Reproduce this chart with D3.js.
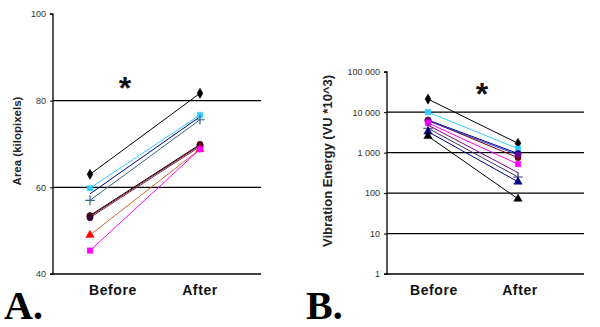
<!DOCTYPE html>
<html>
<head>
<meta charset="utf-8">
<script src="https://cdn.jsdelivr.net/npm/d3@7"></script>
<style>
  body { margin: 0; background: #fff; }
  svg { display: block; font-family: "Liberation Sans", Arial, sans-serif; }
</style>
</head>
<body>
<svg id="chart" width="600" height="327"></svg>
<script>
// categorías
const categorias = ["Before", "After"];

// Panel A: área (kilopixels)
const antesA   = [63, 59.8, 58.5, 57, 53.5, 53.3, 53.0, 49, 45.4];
const despuesA = [81.7, 76.7, 76.3, 75.6, 69.9, 69.7, 69.4, 68.8, 68.8];
const ticksA = [40, 60, 80, 100];
const gridA  = [60, 80];

// Panel B: energía de vibración (escala log)
const antesB   = [21000, 10000, 6400, 6300, 6100, 5400, 4800, 4000, 3300, 2550];
const despuesB = [1700, 1250, 950, 750, 880, 520, 320, 250, 190, 72];
const ticksB = [1, 10, 100, 1000, 10000, 100000];
const gridB  = [10, 100, 1000, 10000];

// estilos de serie (color de línea, color de marcador, símbolo)
const estilosA = [
    { linea: "#000000", marca: "#000000", sim: d3.symbolDiamond },
    { linea: "#33ccff", marca: "#33ccff", sim: d3.symbolSquare },
    { linea: "#000080", marca: "#000080", sim: null },
    { linea: "#336680", marca: "#336680", sim: d3.symbolCross },
    { linea: "#000000", marca: "#000000", sim: d3.symbolCircle },
    { linea: "#800000", marca: "#800000", sim: d3.symbolCircle },
    { linea: "#663366", marca: "#330033", sim: d3.symbolCircle },
    { linea: "#cc6633", marca: "#ff0000", sim: d3.symbolTriangle },
    { linea: "#ff00ff", marca: "#ff00ff", sim: d3.symbolSquare }
];
const estilosB = [
    { linea: "#000000", marca: "#000000", sim: d3.symbolDiamond },
    { linea: "#33ccff", marca: "#33ccff", sim: d3.symbolSquare },
    { linea: "#000080", marca: "#000080", sim: d3.symbolCircle },
    { linea: "#800000", marca: "#800000", sim: d3.symbolCircle },
    { linea: "#3333cc", marca: "#660099", sim: d3.symbolCircle },
    { linea: "#ff00ff", marca: "#ff00ff", sim: d3.symbolSquare },
    { linea: "#800080", marca: "#800080", sim: null },
    { linea: "#333366", marca: "#333366", sim: d3.symbolCross },
    { linea: "#000080", marca: "#000080", sim: d3.symbolTriangle },
    { linea: "#000000", marca: "#000000", sim: d3.symbolTriangle }
];

const svg = d3.select("#chart");

function dibujarPanel(cfg) {
    const g = svg.append("g");

    const x = d3.scalePoint()
        .domain(categorias)
        .range([cfg.xAntes, cfg.xDespues]);

    // grid horizontal
    g.selectAll(".grid")
        .data(cfg.grid)
        .join("line")
        .attr("x1", cfg.left).attr("x2", cfg.right)
        .attr("y1", d => cfg.y(d)).attr("y2", d => cfg.y(d))
        .attr("stroke", "#000")
        .attr("stroke-width", 1.3);

    // eje x (línea base)
    g.append("line")
        .attr("x1", cfg.left).attr("x2", cfg.right)
        .attr("y1", cfg.bottom).attr("y2", cfg.bottom)
        .attr("stroke", "#000")
        .attr("stroke-width", 1.5);

    // eje y
    const ejeY = g.append("g")
        .attr("transform", `translate(${cfg.left},0)`)
        .call(d3.axisLeft(cfg.y).tickValues(cfg.ticks).tickSize(3).tickPadding(4).tickFormat(cfg.formato));
    ejeY.select(".domain").attr("stroke-width", 1.3).attr("d", `M-3,${cfg.top}H0V${cfg.bottom}H-3`);
    ejeY.selectAll("text")
        .attr("fill", "#333")
        .style("font-size", cfg.tamTick + "px")
        .style("font-family", "'Liberation Sans', Arial, sans-serif");

    // título eje y
    g.append("text")
        .attr("transform", `translate(${cfg.tituloX},${cfg.tituloY}) rotate(-90)`)
        .attr("text-anchor", "middle")
        .style("font-weight", "bold")
        .style("font-size", cfg.tamTitulo + "px")
        .attr("fill", "#222")
        .text(cfg.titulo);

    // líneas de cada serie
    cfg.antes.forEach((v, i) => {
        const puntos = [[categorias[0], v], [categorias[1], cfg.despues[i]]];
        const est = cfg.estilos[i];
        g.append("path")
            .datum(puntos)
            .attr("fill", "none")
            .attr("stroke", est.linea)
            .attr("stroke-width", 1)
            .attr("d", d3.line().x(d => x(d[0])).y(d => cfg.y(d[1])));
    });

    // marcadores
    cfg.antes.forEach((v, i) => {
        const est = cfg.estilos[i];
        if (!est.sim) return;
        [[categorias[0], v], [categorias[1], cfg.despues[i]]].forEach(d => {
            const cruz = est.sim === d3.symbolCross;
            g.append("path")
                .attr("transform", `translate(${x(d[0])},${cfg.y(d[1])})`)
                .attr("d", d3.symbol().type(cruz ? d3.symbolPlus : est.sim).size(cruz ? 32 : 30)())
                .attr("fill", cruz ? "none" : est.marca)
                .attr("stroke", est.marca)
                .attr("stroke-width", cruz ? 1.2 : 0.5);
        });
    });

    // etiquetas de categoría
    g.selectAll(".cat")
        .data(categorias)
        .join("text")
        .attr("x", (d, i) => x(d) + cfg.despl[i])
        .attr("y", cfg.bottom + 21)
        .attr("text-anchor", "middle")
        .style("font-weight", "bold")
        .style("font-size", "14px")
        .style("letter-spacing", "0.6px")
        .attr("fill", "#111")
        .text(d => d);

    // asterisco
    g.append("text")
        .attr("x", cfg.astX)
        .attr("y", cfg.astY)
        .attr("text-anchor", "middle")
        .style("font-weight", "bold")
        .style("font-size", "32px")
        .attr("fill", "#111")
        .text("*");

    // letra del panel
    g.append("text")
        .attr("x", cfg.letraX)
        .attr("y", 319)
        .style("font-family", "'Liberation Serif', 'Times New Roman', serif")
        .style("font-weight", "bold")
        .style("font-size", "40px")
        .attr("fill", "#000")
        .text(cfg.letra);
}

// Panel A
dibujarPanel({
    left: 53, right: 261, top: 14, bottom: 274,
    y: d3.scaleLinear().domain([40, 100]).range([274, 14]),
    ticks: ticksA, grid: gridA, formato: d3.format("d"), tamTick: 9,
    xAntes: 90, xDespues: 200, despl: [23, 0],
    antes: antesA, despues: despuesA, estilos: estilosA,
    titulo: "Area (kilopixels)", tituloX: 21, tituloY: 141, tamTitulo: 11.5,
    astX: 125, astY: 99, letra: "A.", letraX: 4
});

// Panel B
dibujarPanel({
    left: 387, right: 584, top: 72, bottom: 274,
    y: d3.scaleLog().domain([1, 100000]).range([274, 71.7]),
    ticks: ticksB, grid: gridB, formato: d => d3.format(",")(d).replace(/,/g, " "), tamTick: 9,
    xAntes: 428, xDespues: 518, despl: [6, 2],
    antes: antesB, despues: despuesB, estilos: estilosB,
    titulo: "Vibration Energy (VU *10^3)", tituloX: 332, tituloY: 161, tamTitulo: 13,
    astX: 482, astY: 105, letra: "B.", letraX: 306
});
</script>
</body>
</html>
